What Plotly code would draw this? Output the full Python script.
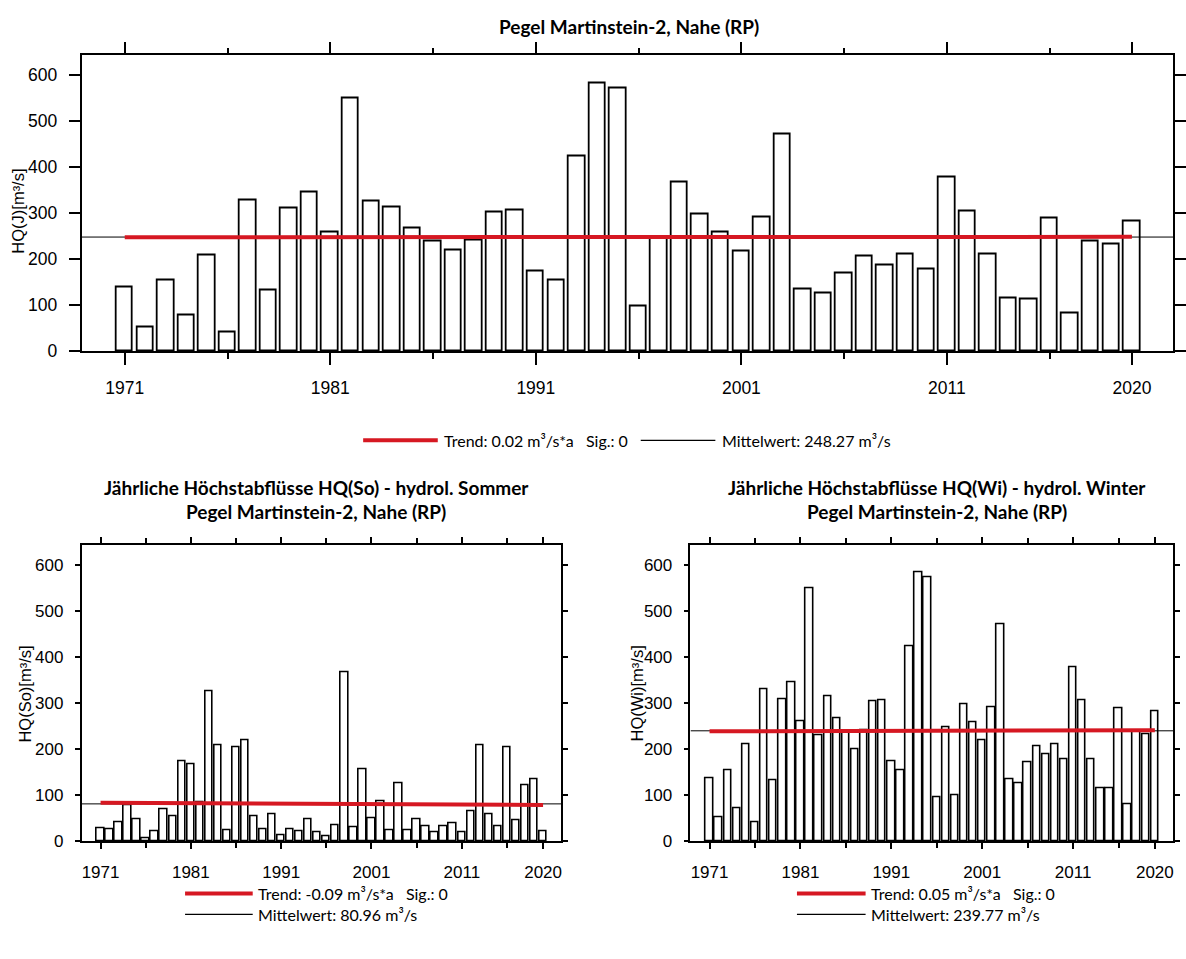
import plotly.graph_objects as go

# ---------------- data ----------------
years = list(range(1971, 2021))

hq_year = [138, 51, 154, 79, 209, 41, 328, 133, 310, 346,
           259, 549, 326, 313, 266, 239, 219, 240, 302, 306,
           174, 155, 423, 583, 572, 97, 248, 368, 297, 258,
           218, 290, 471, 134, 126, 170, 206, 187, 210, 178,
           377, 305, 210, 116, 113, 288, 83, 238, 232, 283]

hq_summer = [27, 25, 41, 77, 47, 6, 21, 70, 55, 173,
             167, 85, 326, 209, 23, 204, 219, 53, 25, 59,
             13, 26, 21, 48, 19, 10, 34, 368, 31, 157,
             49, 86, 23, 125, 24, 48, 32, 19, 32, 39,
             19, 66, 209, 59, 32, 203, 45, 121, 135, 21]

hq_winter = [137, 51, 154, 71, 210, 41, 329, 133, 309, 346,
             260, 549, 231, 314, 266, 239, 199, 240, 303, 306,
             174, 155, 423, 584, 574, 96, 247, 99, 297, 259,
             219, 291, 472, 134, 125, 171, 207, 189, 210, 177,
             377, 306, 177, 116, 114, 289, 81, 239, 232, 283]

trend_slopes = [0.02, -0.09, 0.05]        # m³/s*a
mean_values = [248.27, 80.96, 239.77]     # m³/s
significance = [0, 0, 0]

x_tickvals = [1971, 1981, 1991, 2001, 2011, 2020]
x_minor_tickvals = [1976, 1986, 1996, 2006, 2016]
y_tickvals = [0, 100, 200, 300, 400, 500, 600]

station = "Pegel Martinstein-2, Nahe (RP)"
title_summer = "Jährliche Höchstabflüsse HQ(So) - hydrol. Sommer"
title_winter = "Jährliche Höchstabflüsse HQ(Wi) - hydrol. Winter"
y_titles = ["HQ(J)[m³/s]", "HQ(So)[m³/s]", "HQ(Wi)[m³/s]"]

# ---------------- layout helpers ----------------
W, H = 1186, 959
X_RANGE = [1968.9, 2022.0]
Y_RANGE = [0, 643]
RED = "rgb(214,24,34)"
TXT_FONT = "Lato, Calibri, sans-serif"
AXIS_FAMILY = "Liberation Sans, Arial, sans-serif"


def fx(p):
    return p / W


def fy(p):
    return 1 - p / H


panels = [
    dict(vals=hq_year, xa="x", ya="y", xdom=(82, 1179), ydom=(56, 355), fs=17.5,
         major=12, minor=6, bw=0.8, lw=1.8, ytick=11, standoff_x=8, standoff_y=8),
    dict(vals=hq_summer, xa="x2", ya="y2", xdom=(82, 564), ydom=(551, 850), fs=17,
         major=6, minor=5, bw=0.82, lw=1.6, ytick=5, standoff_x=9, standoff_y=8),
    dict(vals=hq_winter, xa="x3", ya="y3", xdom=(694, 1179), ydom=(551, 850), fs=17,
         major=6, minor=5, bw=0.82, lw=1.6, ytick=5, standoff_x=9, standoff_y=8),
]

fig = go.Figure()
layout_axes = {}
center_year = (years[0] + years[-1]) / 2

for i, p in enumerate(panels):
    fig.add_trace(go.Bar(x=years, y=p["vals"], width=p["bw"], xaxis=p["xa"], yaxis=p["ya"],
                         marker=dict(color="white", line=dict(color="black", width=p["lw"])),
                         showlegend=False))
    fig.add_trace(go.Scatter(x=X_RANGE, y=[mean_values[i]] * 2, mode="lines",
                             xaxis=p["xa"], yaxis=p["ya"],
                             line=dict(color="black", width=1), showlegend=False))
    trend_x = [years[0], years[-1]]
    trend_y = [mean_values[i] + trend_slopes[i] * (t - center_year) for t in trend_x]
    fig.add_trace(go.Scatter(x=trend_x, y=trend_y, mode="lines",
                             xaxis=p["xa"], yaxis=p["ya"],
                             line=dict(color=RED, width=4), showlegend=False))

    tick_font = dict(family=AXIS_FAMILY, size=p["fs"], color="black")
    xname = "xaxis" if i == 0 else f"xaxis{i + 1}"
    yname = "yaxis" if i == 0 else f"yaxis{i + 1}"
    layout_axes[xname] = dict(
        domain=[fx(p["xdom"][0]), fx(p["xdom"][1])], range=X_RANGE,
        anchor=p["ya"], tickmode="array", tickvals=x_tickvals,
        ticktext=[str(v) for v in x_tickvals],
        ticks="outside", ticklen=p["major"], tickwidth=1.6, tickcolor="black",
        minor=dict(tickvals=x_minor_tickvals, ticks="outside", ticklen=p["minor"],
                   tickwidth=1.6, tickcolor="black", showgrid=False),
        showline=True, linecolor="black", linewidth=1.6, mirror="allticks",
        showgrid=False, zeroline=False, tickfont=tick_font,
        ticklabelstandoff=p["standoff_x"], fixedrange=True)
    layout_axes[yname] = dict(
        domain=[fy(p["ydom"][1]), fy(p["ydom"][0])], range=Y_RANGE,
        anchor=p["xa"], tickmode="array", tickvals=y_tickvals,
        ticks="outside", ticklen=p["ytick"], tickwidth=1.6, tickcolor="black",
        showline=True, linecolor="black", linewidth=1.6, mirror="allticks",
        showgrid=False, zeroline=False, tickfont=tick_font,
        ticklabelstandoff=p["standoff_y"], fixedrange=True)

annotations = []
shapes = []


def text(x, y, s, size=14, bold=False, anchor="center", angle=0, family=TXT_FONT):
    annotations.append(dict(
        x=fx(x), y=fy(y), xref="paper", yref="paper", text=f"<b>{s}</b>" if bold else s,
        showarrow=False, xanchor=anchor, yanchor="middle", textangle=angle,
        font=dict(family=family, size=size, color="black")))


def seg(x0, x1, y, color, width):
    shapes.append(dict(type="line", xref="paper", yref="paper",
                       x0=fx(x0), x1=fx(x1), y0=fy(y), y1=fy(y),
                       line=dict(color=color, width=width)))


# titles
text(632, 27, station, size=19, bold=True)
text(318, 493, title_summer, size=19, bold=True)
text(318, 517, station, size=19, bold=True)
text(942, 493, title_winter, size=19, bold=True)
text(942, 517, station, size=19, bold=True)

# y-axis titles
text(18, 213, y_titles[0], size=16.5, angle=-90, family=AXIS_FAMILY)
text(25, 701, y_titles[1], size=16.5, angle=-90, family=AXIS_FAMILY)
text(640, 701, y_titles[2], size=16.5, angle=-90, family=AXIS_FAMILY)


def trend_label(i):
    return f"Trend: {trend_slopes[i]:.2f} m³/s*a&nbsp;&nbsp;&nbsp;Sig.: {significance[i]}"


def mean_label(i):
    return f"Mittelwert: {mean_values[i]:.2f} m³/s"


# legends
LEG = 16
seg(365, 440, 445, RED, 4)
text(444, 445, trend_label(0), size=LEG, anchor="left")
seg(644, 719, 445, "black", 1.4)
text(724, 445, mean_label(0), size=LEG, anchor="left")

seg(186, 254, 903, RED, 4)
text(257, 903, trend_label(1), size=LEG, anchor="left")
seg(186, 254, 924, "black", 1.4)
text(257, 924, mean_label(1), size=LEG, anchor="left")

seg(801, 870, 903, RED, 4)
text(873, 903, trend_label(2), size=LEG, anchor="left")
seg(801, 870, 924, "black", 1.4)
text(873, 924, mean_label(2), size=LEG, anchor="left")

fig.update_layout(
    width=W, height=H, margin=dict(l=0, r=0, t=0, b=0),
    paper_bgcolor="white", plot_bgcolor="white",
    bargap=0, annotations=annotations, shapes=shapes, showlegend=False,
    **layout_axes)

fig.write_html("out.html", config=dict(displayModeBar=False))
